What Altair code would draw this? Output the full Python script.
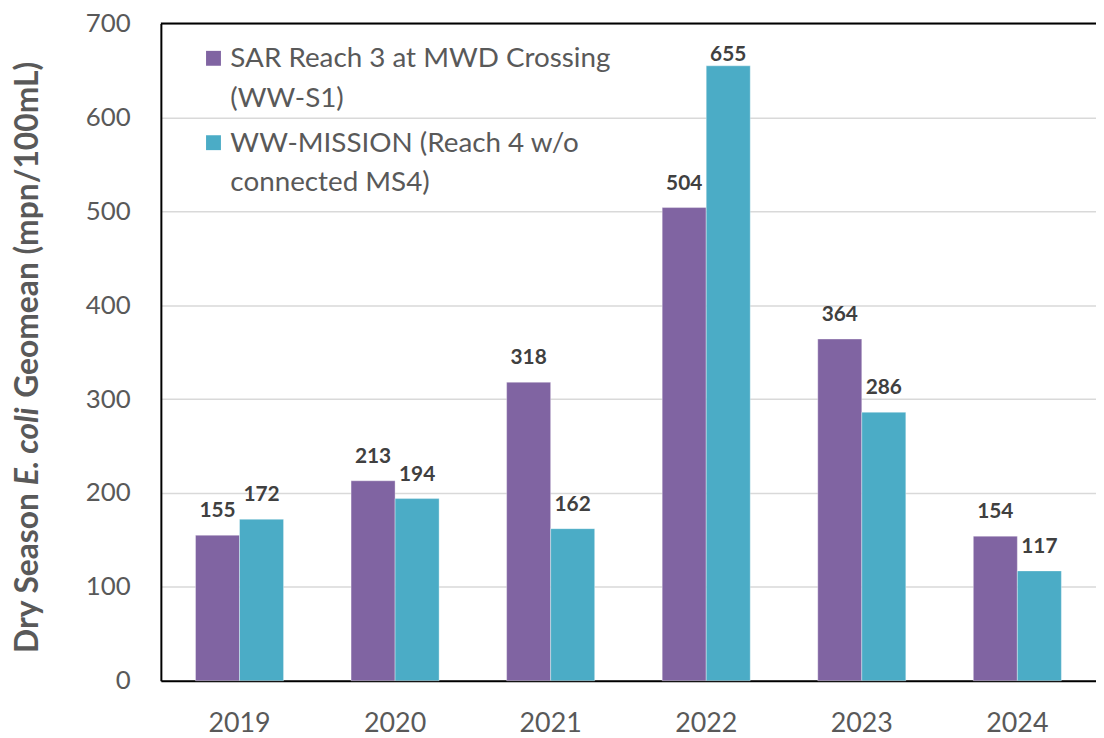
import altair as alt
import pandas as pd

years = ["2019", "2020", "2021", "2022", "2023", "2024"]
series = ["SAR Reach 3 at MWD Crossing (WW-S1)", "WW-MISSION (Reach 4 w/o connected MS4)"]
sar_values = [155, 213, 318, 504, 364, 154]
mission_values = [172, 194, 162, 655, 286, 117]
legend_lines = [["SAR Reach 3 at MWD Crossing", "(WW-S1)"],
                ["WW-MISSION (Reach 4 w/o", "connected MS4)"]]
colors = ["#8064A2", "#4BACC6"]
y_ticks = [0, 100, 200, 300, 400, 500, 600, 700]

rows = []
for i, y in enumerate(years):
    rows.append({"year": y, "series": series[0], "value": sar_values[i]})
    rows.append({"year": y, "series": series[1], "value": mission_values[i]})
df = pd.DataFrame(rows)

W, H = 942, 662
FONT = "Lato"
GRAY = "#595959"

color_scale = alt.Scale(domain=series, range=colors)

base = alt.Chart(df)

bars = base.mark_bar(stroke="white", strokeWidth=0.6, strokeOpacity=0.6).encode(
    x=alt.X("year:N", sort=years,
            scale=alt.Scale(paddingInner=0.434, paddingOuter=0.2226),
            axis=alt.Axis(title=None, labelAngle=0, labelFont=FONT, labelFontSize=27,
                          labelColor=GRAY, labelPadding=30, ticks=False,
                          domainColor="black", domainWidth=2)),
    xOffset=alt.XOffset("series:N", sort=series,
                        scale=alt.Scale(domain=series, paddingInner=0, paddingOuter=0)),
    y=alt.Y("value:Q", scale=alt.Scale(domain=[0, 700]),
            axis=alt.Axis(title=None, values=y_ticks, labelFont=FONT, labelFontSize=26,
                          labelColor=GRAY, labelPadding=31, ticks=False,
                          domainColor="black", domainWidth=2,
                          grid=True, gridColor="#D9D9D9", gridWidth=1.5)),
    color=alt.Color("series:N", scale=color_scale, legend=None),
)

labels = base.transform_calculate(
    label_y="min(datum.value + 19, 660)"
).mark_text(baseline="alphabetic", align="center", font=FONT, fontWeight="bold",
            fontSize=21, color="#404040").encode(
    x=alt.X("year:N", sort=years),
    xOffset=alt.XOffset("series:N", sort=series),
    y=alt.Y("label_y:Q"),
    text=alt.Text("value:Q"),
)

one = alt.Data(values=[{}])

top_rule = alt.Chart(one).mark_rule(color="black", strokeWidth=2).encode(
    x=alt.value(0), x2=alt.value(W), y=alt.value(0)
)

legend_layers = []
sq_y = [35, 120]
txt_y = [44, 129]
for i, s in enumerate(series):
    sq = alt.Chart(alt.Data(values=[{"series": s}])).mark_square(size=225, opacity=1).encode(
        x=alt.value(53), y=alt.value(sq_y[i]),
        color=alt.Color("series:N", scale=color_scale, legend=None),
    )
    tx = alt.Chart(one).mark_text(text=legend_lines[i], align="left", baseline="alphabetic",
                                  lineHeight=40, font=FONT, fontSize=28, color=GRAY).encode(
        x=alt.value(70), y=alt.value(txt_y[i])
    )
    legend_layers += [sq, tx]

title_parts = [("Dry Season", "normal", 634), ("E. coli", "italic", 465),
               ("Geomean (mpn/100mL)", "normal", 377)]
title_layers = []
for t, style, yp in title_parts:
    title_layers.append(
        alt.Chart(one).mark_text(text=t, angle=270, align="left", baseline="alphabetic",
                                 font=FONT, fontWeight="bold", fontStyle=style,
                                 fontSize=32, color=GRAY).encode(
            x=alt.value(-124), y=alt.value(yp))
    )

chart = alt.layer(bars, labels, top_rule, *legend_layers, *title_layers).properties(
    width=W, height=H,
    autosize=alt.AutoSizeParams(type="none"),
    padding={"left": 154, "top": 13, "right": 0, "bottom": 54},
).configure_view(stroke=None).configure(background="white")

chart.save("out.html", embed_options={"renderer": "svg", "actions": False})
